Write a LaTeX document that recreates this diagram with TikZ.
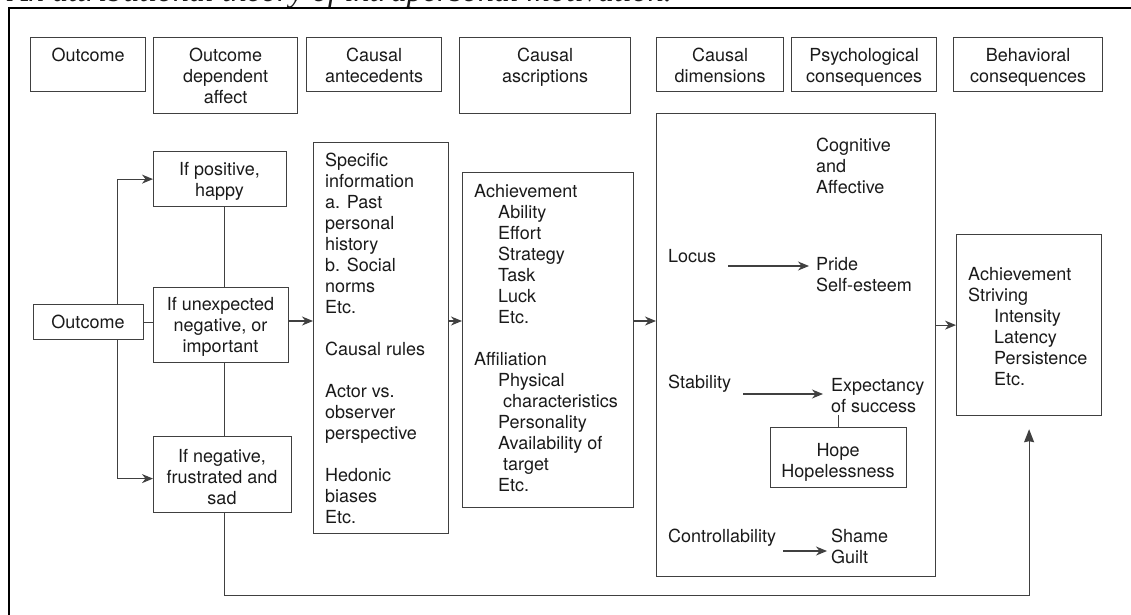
\documentclass[tikz,border=0pt]{standalone}
\usepackage{fontspec}
\setmainfont{TeX Gyre Heros}
\newfontfamily\titlefont{Liberation Serif}
\usetikzlibrary{arrows.meta,calc}
\definecolor{ink}{HTML}{1A1A1A}
\definecolor{edge}{HTML}{404040}
\newcommand{\fr}{\rule{0pt}{14pt}}

\begin{document}
\begin{tikzpicture}[x=1pt,y=-1pt,
  box/.style={draw=edge, line width=1.2pt, inner sep=0pt, anchor=north west},
  lbl/.style={inner sep=0pt, text=ink, font=\fontsize{18}{21}\selectfont},
  ltxt/.style={lbl, anchor=north west, align=left},
  ctxt/.style={lbl, anchor=north, align=center},
  link/.style={draw=edge, line width=1.2pt},
  arr/.style={link, -{Stealth[length=11pt,width=9pt,inset=3.5pt]}},
  uparr/.style={link, -{Stealth[length=13pt,width=10pt,inset=1pt]}},
]
\useasboundingbox (0,0) rectangle (1131,614);
\clip (0,0) rectangle (1131,614);

% caption line, cut by the page edge
\node[anchor=base east, inner sep=0pt, text=ink,
      font=\titlefont\itshape\fontsize{32}{32}\selectfont] (title) at (672,1.5)
  {An attributional theory of intrapersonal motivation.};

% frame
\draw[black, line width=2.2pt] (9,650) -- (9,8) -- (1160,8);

% column headers
\node[box, minimum width=115pt, minimum height=54pt] (hOut) at (30,37) {};
\node[box, minimum width=144pt, minimum height=76pt] (hAff) at (153,37) {};
\node[box, minimum width=135pt, minimum height=54pt] (hAnt) at (306,37) {};
\node[box, minimum width=171pt, minimum height=76pt] (hAsc) at (459,37) {};
\node[box, minimum width=127pt, minimum height=54pt] (hDim) at (656,37) {};
\node[box, minimum width=145pt, minimum height=54pt] (hPsy) at (791,37) {};
\node[box, minimum width=149pt, minimum height=54pt] (hBeh) at (953,37) {};

\node[ctxt] (thOut) at ([yshift=-10pt]hOut.north) {\fr Outcome};
\node[ctxt] (thAff) at ([yshift=-10pt]hAff.north) {\fr Outcome\\dependent\\affect};
\node[ctxt] (thAnt) at ([yshift=-10pt]hAnt.north) {\fr Causal\\antecedents};
\node[ctxt] (thAsc) at ([yshift=-10pt]hAsc.north) {\fr Causal\\ascriptions};
\node[ctxt] (thDim) at ([yshift=-10pt]hDim.north) {\fr Causal\\dimensions};
\node[ctxt] (thPsy) at ([yshift=-10pt]hPsy.north) {\fr Psychological\\consequences};
\node[ctxt] (thBeh) at ([yshift=-10pt]hBeh.north) {\fr Behavioral\\consequences};

% outcome and affect
\node[box, minimum width=110pt, minimum height=35pt] (out) at (33,304) {};
\node[box, minimum width=133pt, minimum height=55pt] (happy) at (153,151) {};
\node[box, minimum width=135pt, minimum height=75pt] (unexp) at (153,287) {};
\node[box, minimum width=138pt, minimum height=76pt] (neg) at (153,436) {};

\node[ctxt] (tOut) at (88,314) {\fr Outcome};
\node[ctxt] (tHappy) at (219.5,161) {\fr If positive,\\happy};
\node[ctxt] (tUnexp) at (220.5,296) {\fr If unexpected\\negative, or\\important};
\node[ctxt] (tNeg) at (222,448) {\fr If negative,\\frustrated and\\sad};

% antecedents
\node[box, minimum width=135pt, minimum height=391pt] (ante) at (313,142) {};
\node[ltxt] (tAnte) at (325,152) {\fr Specific\\information\\a. Past\\personal\\history\\b. Social\\norms\\Etc.\\[21pt]Causal rules\\[21pt]Actor vs.\\observer\\perspective\\[21pt]Hedonic\\biases\\Etc.};

% ascriptions
\node[box, minimum width=171pt, minimum height=335pt] (asc) at (462,172) {};
\node[ltxt] (tAsc) at (474,183) {\fr Achievement\\\hspace*{24pt}Ability\\\hspace*{24pt}Effort\\\hspace*{24pt}Strategy\\\hspace*{24pt}Task\\\hspace*{24pt}Luck\\\hspace*{24pt}Etc.\\[21pt]Affiliation\\\hspace*{24pt}Physical\\\hspace*{29pt}characteristics\\\hspace*{24pt}Personality\\\hspace*{24pt}Availability of\\\hspace*{29pt}target\\\hspace*{24pt}Etc.};

% dimensions and their consequences
\node[box, minimum width=279pt, minimum height=463pt] (dim) at (656,113) {};
\node[ltxt] (cog) at (816,137) {\fr Cognitive\\and\\Affective};
\node[ltxt] (locus) at (668,248) {\fr Locus};
\node[ltxt] (pride) at (816,256) {\fr Pride\\Self-esteem};
\node[ltxt] (stab) at (668,374) {\fr Stability};
\node[ltxt] (expect) at (831,377) {\fr Expectancy\\of success};
\node[box, minimum width=136pt, minimum height=60pt] (hope) at (770,427) {};
\node[ctxt] (tHope) at (838,442) {\fr Hope\\Hopelessness};
\node[ltxt] (ctrl) at (668,528) {\fr Controllability};
\node[ltxt] (shame) at (831,528) {\fr Shame\\Guilt};

% behaviour
\node[box, minimum width=145pt, minimum height=181pt] (ach) at (956,234) {};
\node[ltxt] (tAch) at (968,266) {\fr Achievement\\Striving\\\hspace*{26pt}Intensity\\\hspace*{26pt}Latency\\\hspace*{26pt}Persistence\\\hspace*{26pt}Etc.};

% connectors
\coordinate (row) at (0,321);
\draw[link] (out.east) -- (out.east -| unexp.west);
\draw[arr] ([xshift=29pt]out.north) |- (happy.west);
\draw[arr] ([xshift=29pt]out.south) |- ([yshift=-4pt]neg.west);
\draw[link] ([xshift=4.5pt]happy.south) -- ([xshift=4.5pt]happy.south |- unexp.north);
\draw[link] ([xshift=3.5pt]unexp.south) -- ([xshift=3.5pt]unexp.south |- neg.north);
\draw[uparr] ([xshift=2pt]neg.south) -- ++(0,82) -| ([yshift=-13pt]ach.south);

\draw[arr] (unexp.east |- row) -- (ante.west |- row);
\draw[arr] (ante.east |- row) -- (asc.west |- row);
\draw[arr] (asc.east |- row) -- (dim.west |- row);
\draw[arr] (dim.east |- ach.west) -- (ach.west);

\draw[arr] ([xshift=12pt,yshift=-18pt]locus.north east) -- ([xshift=-7pt,yshift=-10pt]pride.north west);
\draw[arr] ([xshift=12pt,yshift=-20pt]stab.north east) -- ([xshift=-8pt,yshift=-17pt]expect.north west);
\draw[arr] ([xshift=7pt,yshift=-23pt]ctrl.north east) -- ([xshift=-4pt,yshift=-23pt]shame.north west);
\draw[link] (hope.north) -- ([yshift=12pt]hope.north);
\end{tikzpicture}
\end{document}
